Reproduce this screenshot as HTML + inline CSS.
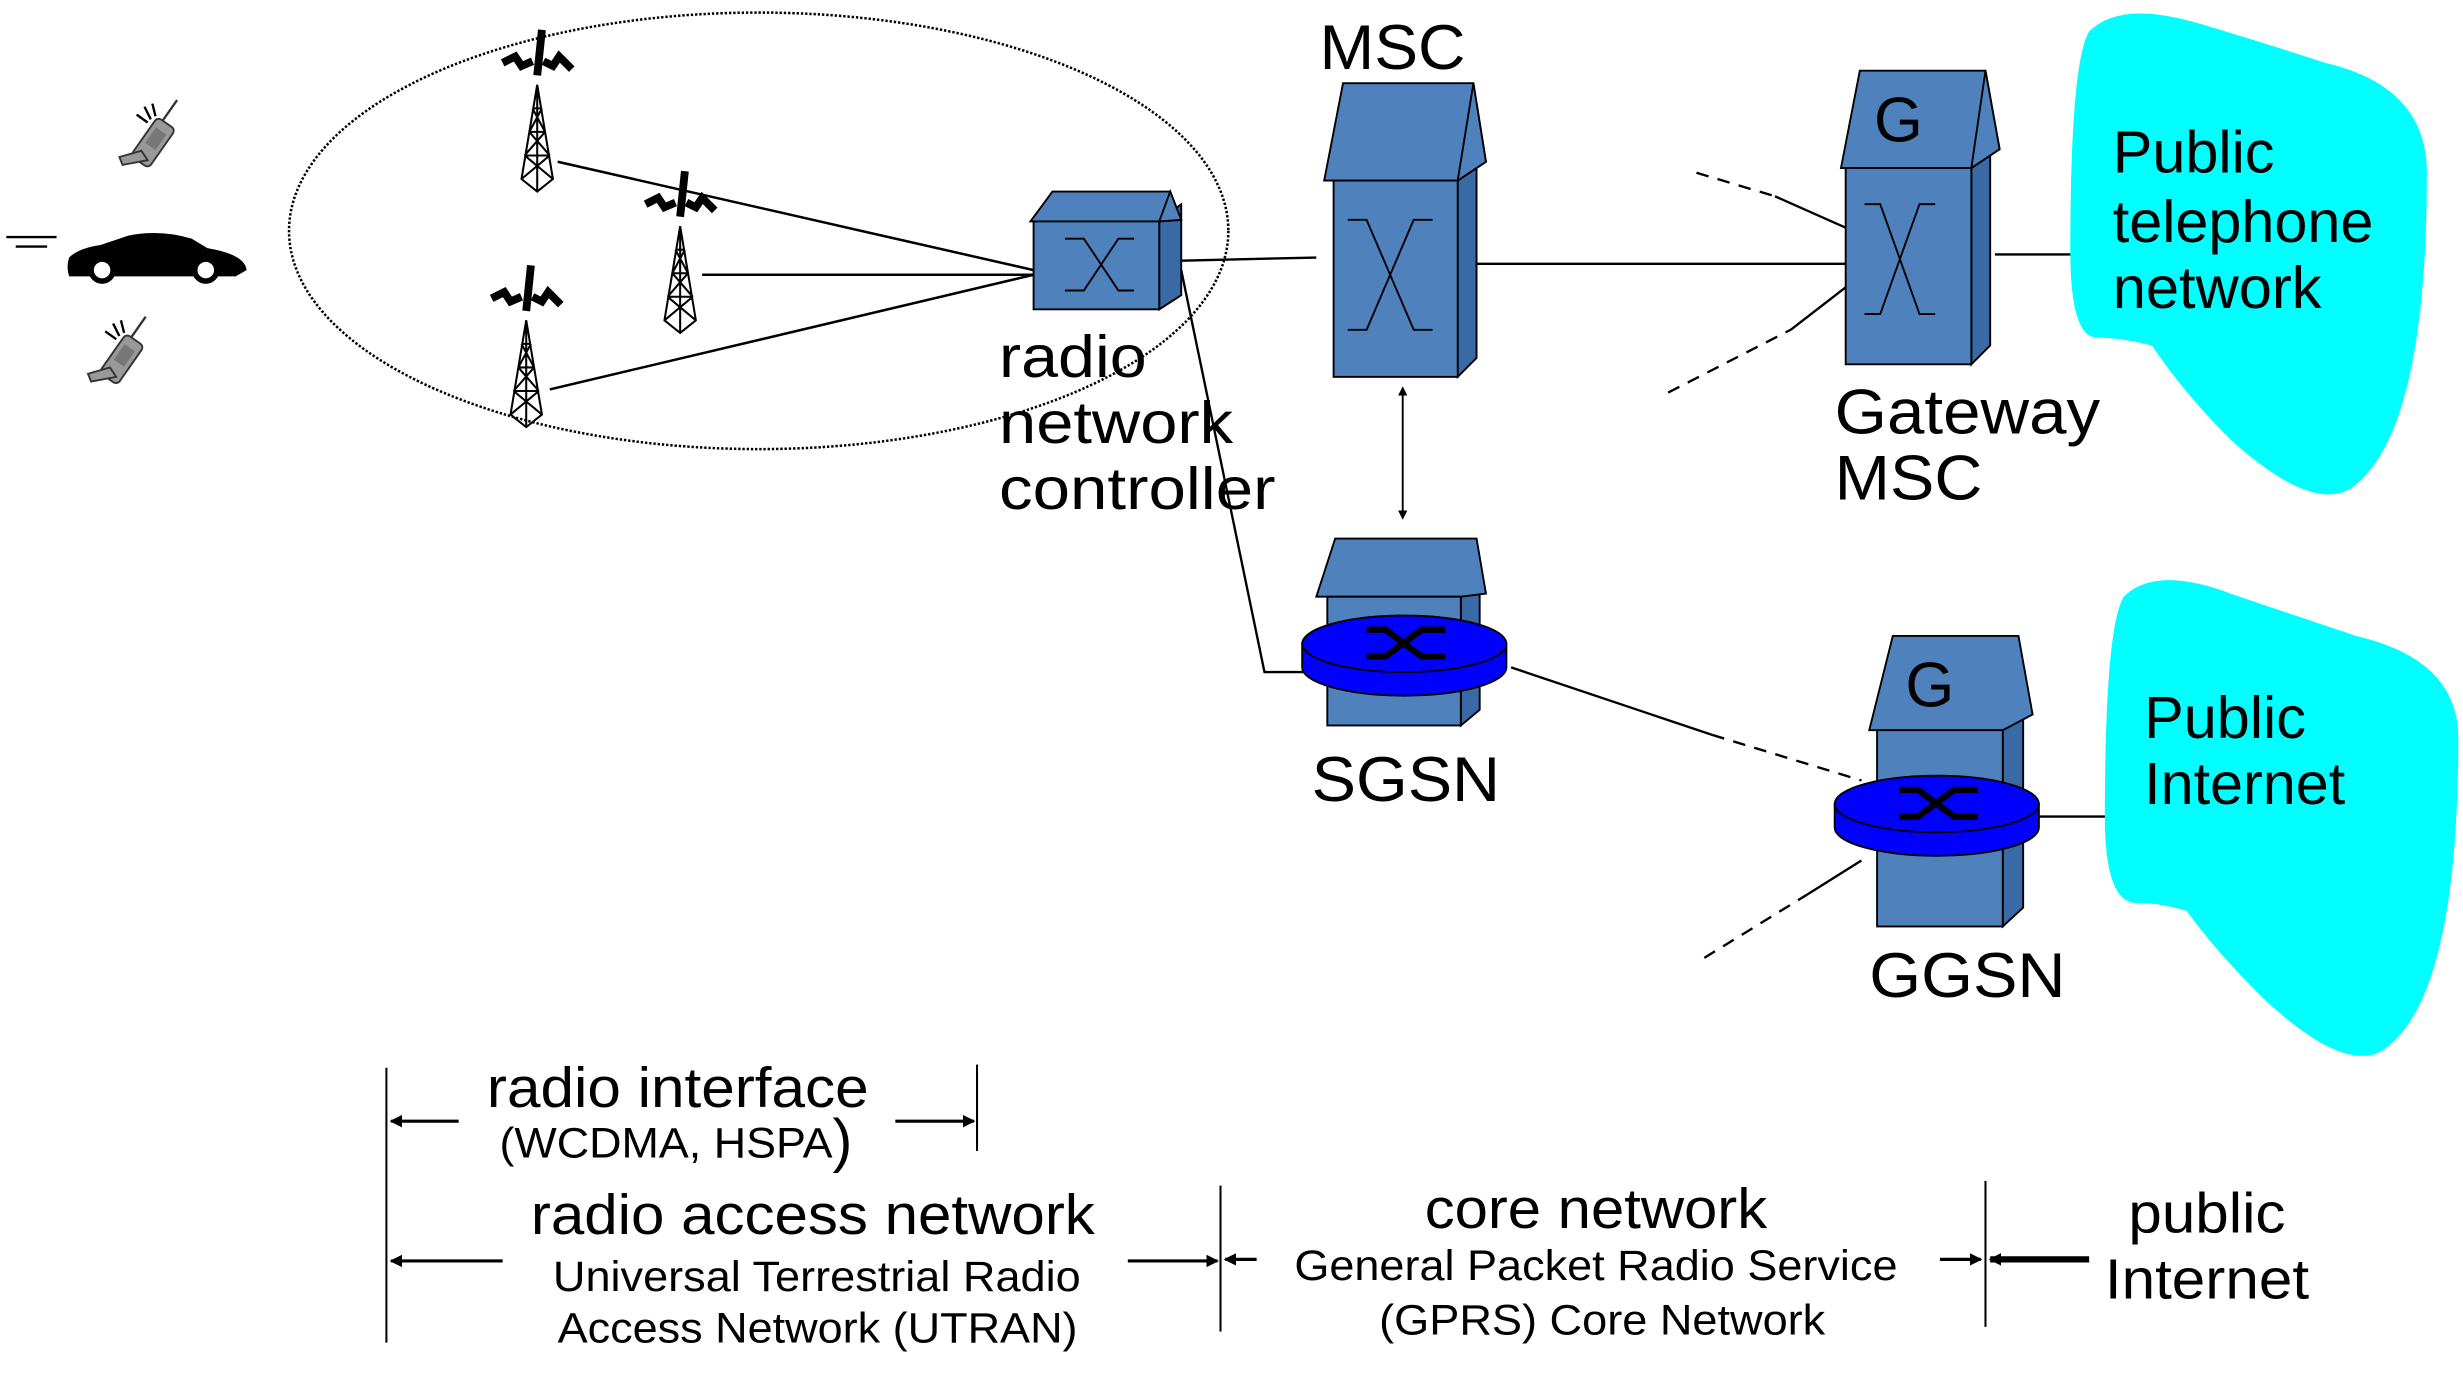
<!DOCTYPE html>
<html><head><meta charset="utf-8"><style>
html,body{margin:0;padding:0;background:#fff;}
svg{display:block;}
text{font-family:"Liberation Sans",sans-serif;fill:#000;}
</style></head><body>
<svg width="2463" height="1374" viewBox="0 0 1568 875" preserveAspectRatio="none" xmlns="http://www.w3.org/2000/svg">
<defs>
<marker id="ah" markerWidth="8" markerHeight="8" refX="7" refY="4" orient="auto" markerUnits="userSpaceOnUse"><path d="M0,0 L8,4 L0,8 Z" fill="#000"/></marker>
<marker id="as" markerWidth="6" markerHeight="6" refX="5" refY="3" orient="auto-start-reverse" markerUnits="userSpaceOnUse"><path d="M0,0 L6,3 L0,6 Z" fill="#000"/></marker>
<g id="tower" fill="none" stroke="#000" stroke-width="1.3">
<path d="M0,0 L-10,60 L0,68 L10,60 Z M-8,45 L8,45 M-5,30 L5,30 M-3,15 L3,15 M-10,60 L8,45 M10,60 L-8,45 M-8,45 L5,30 M8,45 L-5,30 M-5,30 L3,15 M5,30 L-3,15 M0,0 L0,68"/>
<path d="M0,-6 L3,-35" stroke-width="5"/>
<path d="M-22,-14 L-14,-18 L-10,-12 L-3,-15 M4,-15 L10,-12 L14,-18 L22,-10" stroke-width="5"/>
</g>
<g id="phone">
<g transform="rotate(-55)">
<rect x="-16" y="-7" width="30" height="14" rx="3" fill="#999" stroke="#333" stroke-width="1.2"/>
<rect x="-4" y="-4" width="12" height="8" fill="#777"/>
<line x1="14" y1="-3" x2="30" y2="-3" stroke="#333" stroke-width="1.5"/>
</g>
<polygon points="-22,10 -8,6 -4,12 -20,15" fill="#999" stroke="#333" stroke-width="1.2"/>
<path d="M-6,-22 L-2,-14 M-1,-24 L1,-16 M-11,-17 L-4,-12" stroke="#000" stroke-width="1.5"/>
</g>
</defs>

<!-- dotted ellipse -->
<ellipse cx="483" cy="147" rx="299" ry="139" fill="none" stroke="#000" stroke-width="1.6" stroke-dasharray="1.5,1.2"/>

<!-- towers -->
<use href="#tower" x="342" y="54"/>
<use href="#tower" x="433" y="144"/>
<use href="#tower" x="335" y="204"/>

<!-- tower lines -->
<g stroke="#000" stroke-width="1.6" fill="none">
<line x1="355" y1="103" x2="658" y2="172"/>
<line x1="447" y1="175" x2="658" y2="175"/>
<line x1="350" y1="248" x2="658" y2="175"/>
</g>

<!-- phones & car -->
<use href="#phone" x="98" y="90"/>
<use href="#phone" x="78" y="228"/>
<g stroke="#000" stroke-width="1.5"><line x1="4" y1="151" x2="36" y2="151"/><line x1="10" y1="157" x2="30" y2="157"/></g>
<path d="M44,164 Q50,158 64,156 L82,150 Q102,146 122,152 L132,158 Q156,162 157,172 L150,176 L44,176 Q42,170 44,164 Z" fill="#000"/>
<circle cx="65" cy="172" r="7" fill="#fff" stroke="#000" stroke-width="3.5"/>
<circle cx="131" cy="172" r="7" fill="#fff" stroke="#000" stroke-width="3.5"/>

<!-- RNC -->
<g stroke="#000" stroke-width="1.2">
<polygon points="738,141 752,130 752,188 738,197" fill="#3a6aa5"/>
<polygon points="656,141 670,122 745,122 752,140 738,141" fill="#4f81bd"/>
<polygon points="738,141 745,122 752,140" fill="#4f81bd"/>
<rect x="658" y="141" width="80" height="56" fill="#4f81bd"/>
<path d="M678,152 L690,152 L712,185 L722,185 M678,185 L690,185 L712,152 L722,152" fill="none"/>
</g>
<text x="636" y="240" font-size="38" textLength="94" lengthAdjust="spacingAndGlyphs">radio</text>
<text x="636" y="282" font-size="38" textLength="149" lengthAdjust="spacingAndGlyphs">network</text>
<text x="636" y="324" font-size="38" textLength="176" lengthAdjust="spacingAndGlyphs">controller</text>

<!-- lines -->
<g stroke="#000" stroke-width="1.5" fill="none">
<line x1="752" y1="166" x2="838" y2="164"/>
<polyline points="752,172 805,428 838,428"/>
<line x1="933" y1="168" x2="1175" y2="168"/>
<line x1="1270" y1="162" x2="1328" y2="162"/>
<line x1="1298" y1="520" x2="1348" y2="520"/>
<line x1="962" y1="425" x2="1090" y2="468"/>
<line x1="1090" y1="468" x2="1185" y2="497" stroke-dasharray="8,6"/>
<line x1="1130" y1="125" x2="1175" y2="145"/>
<line x1="1080" y1="110" x2="1130" y2="125" stroke-dasharray="8,6"/>
<line x1="1140" y1="210" x2="1175" y2="183"/>
<line x1="1062" y1="250" x2="1140" y2="210" stroke-dasharray="8,6"/>
<line x1="1150" y1="570" x2="1185" y2="548"/>
<line x1="1085" y1="610" x2="1150" y2="570" stroke-dasharray="8,6"/>
<line x1="893" y1="247" x2="893" y2="330" stroke-width="1.2" marker-start="url(#as)" marker-end="url(#as)"/>
</g>

<!-- MSC -->
<g stroke="#000" stroke-width="1.2">
<polygon points="928,115 940,105 940,228 928,240" fill="#3a6aa5"/>
<polygon points="843,115 855,53 938,53 946,103 928,115" fill="#4f81bd"/>
<polygon points="928,115 938,53 946,103" fill="#4f81bd"/>
<rect x="849" y="115" width="79" height="125" fill="#4f81bd"/>
<path d="M858,140 L870,140 L900,210 L912,210 M858,210 L870,210 L900,140 L912,140" fill="none"/>
</g>
<text x="840" y="44" font-size="40" textLength="93" lengthAdjust="spacingAndGlyphs">MSC</text>

<!-- Gateway MSC -->
<g stroke="#000" stroke-width="1.2">
<polygon points="1255,107 1267,97 1267,220 1255,232" fill="#3a6aa5"/>
<polygon points="1172,107 1184,45 1264,45 1273,95 1255,107" fill="#4f81bd"/>
<polygon points="1255,107 1264,45 1273,95" fill="#4f81bd"/>
<rect x="1175" y="107" width="80" height="125" fill="#4f81bd"/>
<path d="M1187,130 L1197,130 L1222,200 L1232,200 M1187,200 L1197,200 L1222,130 L1232,130" fill="none"/>
</g>
<text x="1193" y="90" font-size="40">G</text>
<text x="1168" y="276" font-size="40" textLength="169" lengthAdjust="spacingAndGlyphs">Gateway</text>
<text x="1168" y="318" font-size="40" textLength="94" lengthAdjust="spacingAndGlyphs">MSC</text>

<!-- Cloud PTN -->
<path d="M1330,20 Q1350,0 1400,15 Q1450,30 1480,40 Q1545,55 1545,110 Q1545,280 1495,312 Q1470,325 1420,280 Q1390,250 1370,220 Q1350,215 1335,215 Q1318,215 1318,160 Q1318,40 1330,20 Z" fill="#00ffff"/>
<text x="1345" y="110" font-size="38" textLength="103" lengthAdjust="spacingAndGlyphs">Public</text>
<text x="1345" y="154" font-size="38" textLength="166" lengthAdjust="spacingAndGlyphs">telephone</text>
<text x="1345" y="196" font-size="38" textLength="133" lengthAdjust="spacingAndGlyphs">network</text>

<!-- Cloud Internet -->
<path d="M1352,380 Q1372,360 1420,378 Q1470,395 1500,405 Q1565,420 1565,470 Q1565,640 1515,670 Q1490,682 1440,635 Q1410,605 1392,580 Q1375,575 1360,575 Q1340,575 1340,520 Q1340,400 1352,380 Z" fill="#00ffff"/>
<text x="1365" y="470" font-size="38" textLength="103" lengthAdjust="spacingAndGlyphs">Public</text>
<text x="1365" y="512" font-size="38" textLength="128" lengthAdjust="spacingAndGlyphs">Internet</text>

<!-- SGSN -->
<g stroke="#000" stroke-width="1.2">
<polygon points="930,380 942,370 942,452 930,462" fill="#3a6aa5"/>
<polygon points="838,380 850,343 940,343 946,378 930,380" fill="#4f81bd"/>
<rect x="845" y="380" width="85" height="82" fill="#4f81bd"/>
<path d="M829,410 L829,425 A65,18 0 0 0 959,425 L959,410 Z" fill="#0000ff"/>
<ellipse cx="894" cy="410" rx="65" ry="18" fill="#0000ff"/>
</g>
<path d="M870,401 L882,401 L905,418 L920,418 M870,418 L882,418 L905,401 L920,401" stroke="#000" stroke-width="4" fill="none"/>
<text x="835" y="510" font-size="40" textLength="120" lengthAdjust="spacingAndGlyphs">SGSN</text>

<!-- GGSN -->
<g stroke="#000" stroke-width="1.2">
<polygon points="1275,465 1288,455 1288,578 1275,590" fill="#3a6aa5"/>
<polygon points="1190,465 1205,405 1285,405 1294,455 1275,465" fill="#4f81bd"/>
<rect x="1195" y="465" width="80" height="125" fill="#4f81bd"/>
<path d="M1168,512 L1168,527 A65,18 0 0 0 1298,527 L1298,512 Z" fill="#0000ff"/>
<ellipse cx="1233" cy="512" rx="65" ry="18" fill="#0000ff"/>
</g>
<path d="M1209,503 L1221,503 L1244,520 L1259,520 M1209,520 L1221,520 L1244,503 L1259,503" stroke="#000" stroke-width="4" fill="none"/>
<text x="1213" y="450" font-size="40">G</text>
<text x="1190" y="635" font-size="40" textLength="125" lengthAdjust="spacingAndGlyphs">GGSN</text>

<!-- bottom legend -->
<g stroke="#000" stroke-width="1.3">
<line x1="246" y1="680" x2="246" y2="855"/>
<line x1="622" y1="678" x2="622" y2="733"/>
<line x1="777" y1="755" x2="777" y2="848"/>
<line x1="1264" y1="752" x2="1264" y2="845"/>
</g>
<g stroke="#000" stroke-width="2" fill="none">
<line x1="292" y1="714" x2="249" y2="714" marker-end="url(#ah)"/>
<line x1="570" y1="714" x2="620" y2="714" marker-end="url(#ah)"/>
<line x1="320" y1="803" x2="249" y2="803" marker-end="url(#ah)"/>
<line x1="718" y1="803" x2="775" y2="803" marker-end="url(#ah)"/>
<line x1="800" y1="802" x2="780" y2="802" marker-end="url(#ah)"/>
<line x1="1235" y1="802" x2="1261" y2="802" marker-end="url(#ah)"/>
<line x1="1330" y1="802" x2="1267" y2="802" stroke-width="4" marker-end="url(#ah)"/>
</g>
<text x="310" y="705" font-size="36" textLength="243" lengthAdjust="spacingAndGlyphs">radio interface</text>
<text x="318" y="737" font-size="27" textLength="212" lengthAdjust="spacingAndGlyphs">(WCDMA, HSPA</text>
<text x="530" y="739" font-size="38">)</text>
<text x="338" y="786" font-size="36" textLength="359" lengthAdjust="spacingAndGlyphs">radio access network</text>
<text x="352" y="822" font-size="27" textLength="336" lengthAdjust="spacingAndGlyphs">Universal Terrestrial Radio</text>
<text x="355" y="855" font-size="27" textLength="331" lengthAdjust="spacingAndGlyphs">Access Network (UTRAN)</text>
<text x="907" y="782" font-size="36" textLength="218" lengthAdjust="spacingAndGlyphs">core network</text>
<text x="824" y="815" font-size="27" textLength="384" lengthAdjust="spacingAndGlyphs">General Packet Radio Service</text>
<text x="878" y="850" font-size="27" textLength="284" lengthAdjust="spacingAndGlyphs">(GPRS) Core Network</text>
<text x="1355" y="785" font-size="36" textLength="100" lengthAdjust="spacingAndGlyphs">public</text>
<text x="1340" y="827" font-size="36" textLength="130" lengthAdjust="spacingAndGlyphs">Internet</text>
</svg>
</body></html>
